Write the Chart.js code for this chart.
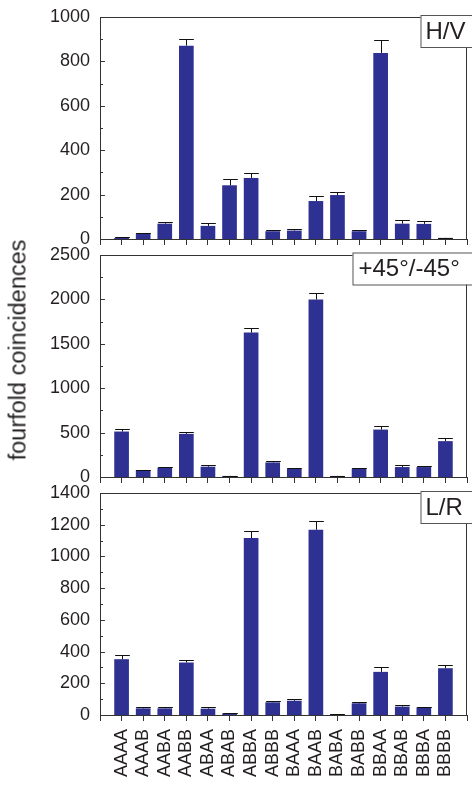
<!DOCTYPE html>
<html>
<head>
<meta charset="utf-8">
<script src="https://cdn.jsdelivr.net/npm/chart.js@4/dist/chart.umd.min.js"></script>
<style>
  html, body { margin: 0; padding: 0; background: #fff; }
  #wrap { position: relative; width: 472px; height: 786px; overflow: hidden; }
  canvas { position: absolute; left: 0; }
  #p1 { top: 0; }
  #p2 { top: 240px; }
  #p3 { top: 478px; }
  #ytitle {
    position: absolute; left: 18px; top: 350px;
    transform: translate(-50%, -50%) rotate(-90deg);
    font: 23.5px "Liberation Sans", Arial, sans-serif; color: #231f20;
    white-space: nowrap;
  }
</style>
</head>
<body>
<div id="wrap">
  <canvas id="p1" width="472" height="248"></canvas>
  <canvas id="p2" width="472" height="248"></canvas>
  <canvas id="p3" width="472" height="308"></canvas>
  <div id="ytitle">fourfold coincidences</div>
</div>
<script>
// data
const categories = ['AAAA', 'AAAB', 'AABA', 'AABB', 'ABAA', 'ABAB', 'ABBA', 'ABBB',
                    'BAAA', 'BAAB', 'BABA', 'BABB', 'BBAA', 'BBAB', 'BBBA', 'BBBB'];

const hvValues = [5, 25, 69, 871, 59, 242, 275, 35, 38, 171, 198, 35, 838, 69, 68, 5];
const hvErrors = [2, 3, 9, 30, 12, 27, 21, 5, 6, 21, 15, 6, 60, 15, 12, 1];

const diagValues = [512, 78, 104, 486, 116, 12, 1626, 164, 90, 1999, 12, 93, 534, 112, 112, 404];
const diagErrors = [34, 4, 4, 19, 19, 2, 56, 15, 11, 75, 2, 7, 45, 22, 15, 34];

const lrValues = [352, 42, 42, 331, 40, 10, 1116, 80, 90, 1168, 4, 74, 272, 53, 48, 295];
const lrErrors = [25, 6, 6, 17, 8, 2, 44, 6, 12, 55, 1, 8, 32, 10, 5, 23];

const panelLabels = ['H/V', '+45°/-45°', 'L/R'];
const yMaxes = [1000, 2500, 1400];
const yMinorSteps = [100, 250, 100];
const yLabelSteps = [200, 500, 200];

const FONT = '"Liberation Sans", Arial, sans-serif';
const INK = '#231f20';
const AXIS = '#333333';
const BAR = '#2e3192';

// empty slot at each end so the axis runs from -1 to 16
const xLabels = [''].concat(categories, ['']);
const pad = arr => [null].concat(arr, [null]);

// keep chart.js from reserving extra room for label overflow
function noPadding(s) {
  s.paddingLeft = 0;
  s.paddingRight = 0;
  s.paddingTop = 0;
  s.paddingBottom = 0;
}

const framePlugin = {
  id: 'frame',
  afterDatasetsDraw(chart, args, opts) {
    const ctx = chart.ctx;
    const a = chart.chartArea;
    const y = chart.scales.y;
    ctx.save();
    ctx.strokeStyle = AXIS;
    ctx.lineWidth = 1;
    ctx.strokeRect(Math.round(a.left) + 0.5, Math.round(a.top) + 0.5,
      Math.round(a.right - a.left) - 1, Math.round(a.bottom - a.top));
    // inward ticks on the y axis
    y.ticks.forEach(t => {
      const py = Math.round(y.getPixelForValue(t.value)) + 0.5;
      const len = t.value % opts.labelStep === 0 ? 5 : 3;
      ctx.beginPath();
      ctx.moveTo(a.left, py);
      ctx.lineTo(a.left + len, py);
      ctx.stroke();
    });

    // error bars (upper whisker only)
    const meta = chart.getDatasetMeta(0);
    const errs = opts.errors;
    ctx.strokeStyle = '#111';
    meta.data.forEach((bar, i) => {
      const v = chart.data.datasets[0].data[i];
      if (v == null) return;
      const e = errs[i - 1];
      const top = Math.round(y.getPixelForValue(v + e)) + 0.5;
      const x = Math.round(bar.x) + 0.5;
      const hw = bar.width / 2;
      ctx.beginPath();
      ctx.moveTo(x, bar.y);
      ctx.lineTo(x, top);
      ctx.moveTo(x - hw, top);
      ctx.lineTo(x + hw, top);
      ctx.stroke();
    });

    // panel label box, running off the right edge
    const b = opts.box;
    const w = chart.width + 10 - b.x;
    ctx.fillStyle = '#fff';
    ctx.fillRect(b.x, b.y, w, b.h);
    ctx.strokeStyle = '#555';
    ctx.strokeRect(b.x + 0.5, b.y + 0.5, w, b.h);
    ctx.fillStyle = INK;
    ctx.font = '24px ' + FONT;
    ctx.textBaseline = 'middle';
    ctx.textAlign = 'left';
    ctx.fillText(opts.label, b.x + b.tx, b.y + b.h / 2 + 1);
    ctx.restore();
  }
};

function makePanel(id, idx, values, errors, xHeight, top, box, showX) {
  const canvas = document.getElementById(id);
  new Chart(canvas, {
    type: 'bar',
    data: {
      labels: xLabels,
      datasets: [{
        data: pad(values),
        backgroundColor: BAR,
        borderWidth: 0,
        barPercentage: 0.68,
        categoryPercentage: 1
      }]
    },
    options: {
      responsive: false,
      animation: false,
      devicePixelRatio: 1,
      layout: { autoPadding: false, padding: { top: top, right: 5, left: 0, bottom: 0 } },
      plugins: {
        legend: { display: false },
        tooltip: { enabled: false },
        frame: { errors: errors, label: panelLabels[idx], labelStep: yLabelSteps[idx], box: box }
      },
      scales: {
        x: {
          type: 'category',
          offset: false,
          border: { display: false },
          grid: { drawOnChartArea: false, drawTicks: true, tickLength: 6, color: AXIS, offset: false },
          ticks: {
            display: showX,
            autoSkip: false,
            minRotation: 90,
            maxRotation: 90,
            padding: 8,
            color: INK,
            font: { family: FONT, size: 18 }
          },
          afterFit: s => { s.height = xHeight; noPadding(s); }
        },
        y: {
          min: 0,
          max: yMaxes[idx],
          border: { display: false },
          grid: { display: false, drawTicks: false },
          ticks: {
            stepSize: yMinorSteps[idx],
            autoSkip: false,
            padding: 10,
            color: INK,
            font: { family: FONT, size: 18 },
            callback: v => (v % yLabelSteps[idx] === 0 ? String(v) : '')
          },
          afterFit: s => { s.width = 100; noPadding(s); }
        }
      }
    },
    plugins: [framePlugin]
  });
}

makePanel('p1', 0, hvValues, hvErrors, 9, 17, { x: 420.5, y: 15, h: 32, tx: 5 }, false);
makePanel('p2', 1, diagValues, diagErrors, 11, 15, { x: 352.5, y: 12.5, h: 32, tx: 6 }, false);
makePanel('p3', 2, lrValues, lrErrors, 71, 15, { x: 420.5, y: 13, h: 32, tx: 5 }, true);
</script>
</body>
</html>
